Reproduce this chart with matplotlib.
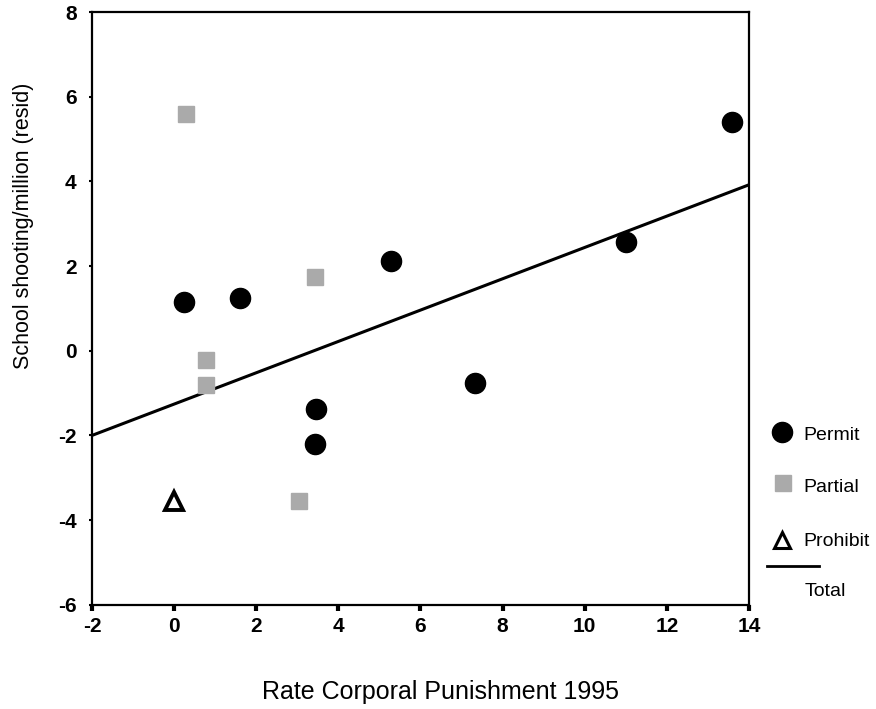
import matplotlib
matplotlib.use("Agg")
import matplotlib.pyplot as plt
from matplotlib.lines import Line2D
import numpy as np

plt.rcParams['font.family'] = ['Liberation Sans', 'DejaVu Sans']

# Data
permit_x = [0.25, 1.6, 3.45, 3.42, 5.28, 7.32, 11.0, 13.58]
permit_y = [1.15, 1.25, -1.37, -2.2, 2.13, -0.76, 2.57, 5.4]
partial_x = [0.28, 0.77, 0.77, 3.42, 3.05]
partial_y = [5.6, -0.22, -0.82, 1.75, -3.54]
prohibit_x = [0.0]
prohibit_y = [-3.55]
fit_intercept = -1.26
fit_slope = 0.37
xticks = [-2, 0, 2, 4, 6, 8, 10, 12, 14]
yticks = [-6, -4, -2, 0, 2, 4, 6, 8]

fig = plt.figure(figsize=(8.76, 7.09), dpi=100)
ax = fig.add_axes([0.105, 0.147, 0.750, 0.836])

xl = np.array([-2, 14])
ax.plot(xl, fit_intercept + fit_slope * xl, color='black', lw=2.2, zorder=2)
ax.plot(permit_x, permit_y, 'o', color='black', ms=14.5, zorder=3)
ax.plot(partial_x, partial_y, 's', color='#aaaaaa', ms=12, zorder=3)
ax.plot(prohibit_x, prohibit_y, '^', mfc='white', mec='black', mew=2.8, ms=13, zorder=3)

ax.set_xlim(-2, 14)
ax.set_ylim(-6, 8)
ax.set_xticks(xticks)
ax.set_yticks(yticks)
ax.set_xticklabels([str(t) for t in xticks], fontsize=15, fontweight='bold')
ax.set_yticklabels([str(t) for t in yticks], fontsize=15, fontweight='bold')
ax.tick_params(axis='x', direction='out', length=4, width=3, pad=5)
ax.tick_params(axis='y', direction='out', length=2, width=1.5, pad=9)
for s in ax.spines.values():
    s.set_linewidth(1.6)

ax.set_ylabel('School shooting/million (resid)', fontsize=15.5)
ax.yaxis.set_label_coords(-0.088, 0.639)
ax.set_xlabel('Rate Corporal Punishment 1995', fontsize=18)
ax.xaxis.set_label_coords(0.531, -0.147)
ax.xaxis.label.set_va('center')

# Legend (manual layout, figure pixel coords)
W, H = 876, 709
def fx(px): return px / W
def fy(py): return 1 - py / H
fig.add_artist(Line2D([fx(782)], [fy(432)], marker='o', color='black', ms=14.5, transform=fig.transFigure))
fig.text(fx(803), fy(435), 'Permit', fontsize=14, va='center')
fig.add_artist(Line2D([fx(783)], [fy(483)], marker='s', color='#aaaaaa', ms=12, transform=fig.transFigure))
fig.text(fx(803), fy(488), 'Partial', fontsize=14, va='center')
fig.add_artist(Line2D([fx(782)], [fy(540)], marker='^', mfc='white', mec='black', mew=2.2, ms=12, transform=fig.transFigure))
fig.text(fx(803), fy(542), 'Prohibit', fontsize=14, va='center')
fig.add_artist(Line2D([fx(767), fx(819)], [fy(566), fy(566)], color='black', lw=2, transform=fig.transFigure))
fig.text(fx(805), fy(592), 'Total', fontsize=14, va='center')

fig.savefig('out.png', dpi=100)
